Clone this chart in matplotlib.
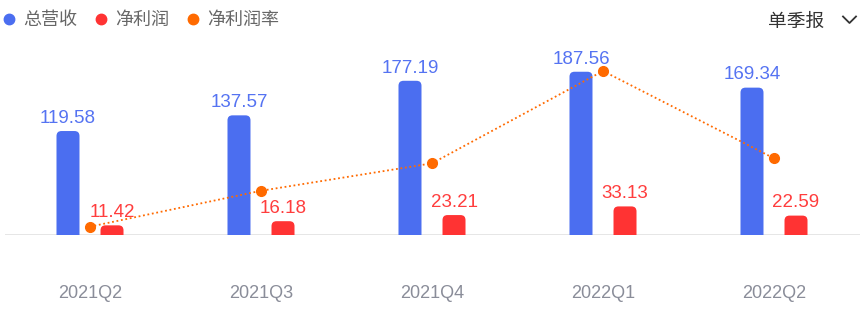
import matplotlib
matplotlib.use("Agg")
import matplotlib.pyplot as plt
from matplotlib.patches import FancyBboxPatch
from matplotlib.lines import Line2D

plt.rcParams['font.family'] = ['Liberation Sans', 'Noto Sans CJK SC', 'DejaVu Sans']

# data
quarters = ["2021Q2", "2021Q3", "2021Q4", "2022Q1", "2022Q2"]
revenue = [119.58, 137.57, 177.19, 187.56, 169.34]
net_profit = [11.42, 16.18, 23.21, 33.13, 22.59]
net_margin = [9.55, 11.42, 12.85, 17.66, 13.11]   # estimated, no labels shown

BLUE = "#4b6ef0"
BLUE_TXT = "#5573f2"
RED = "#ff3333"
RED_TXT = "#ff3d3d"
ORANGE = "#ff6a00"

W, H = 865, 314
fig = plt.figure(figsize=(W / 100, H / 100), dpi=100)

# axes box in pixels: baseline at y=235 from top, top at y=40
left, right = 4.5, 859.5
base, top = 314 - 235.3, 314 - 40
ax = fig.add_axes([left / W, base / H, (right - left) / W, (top - base) / H])
ax2 = ax.twinx()

px_per_unit = 0.872
ax.set_xlim(-0.5, 4.5)
ax.set_ylim(0, (top - base) / px_per_unit)
ax2.set_ylim(9.10, 9.10 + (top - base) * 0.0521)

for a in (ax, ax2):
    for s in a.spines.values():
        s.set_visible(False)
    a.set_yticks([])
ax.tick_params(axis="x", length=0, pad=36, labelsize=13, labelcolor="#8a8d99")

x = list(range(len(quarters)))
bw = 0.1345
off = 0.1287
ax.set_xticks(x)
ax.set_xticklabels(quarters)

ax.axhline(0, color="#e3e3e3", lw=2, zorder=1)

# aspect so rounded corners look round on screen
x_per_px = 5 / (right - left)
y_per_px = 1 / px_per_unit
aspect = y_per_px / x_per_px
rad = 5 * x_per_px


def rounded_bars(xs, vals, color):
    bars = ax.bar(xs, vals, width=bw, color=color)
    for b in bars:
        bx, bh = b.get_x(), b.get_height()
        b.remove()
        p = FancyBboxPatch((bx, -20), bw, bh + 20,
                           boxstyle=f"round,pad=0,rounding_size={rad}",
                           mutation_aspect=aspect, fc=color, ec="none", zorder=2)
        ax.add_patch(p)


xb = [i - off for i in x]
xr = [i + off for i in x]
rounded_bars(xb, revenue, BLUE)
rounded_bars(xr, net_profit, RED)

for xi, v in zip(xb, revenue):
    ax.annotate(f"{v:.2f}", (xi, v), xytext=(0, 3), textcoords="offset points",
                ha="center", va="bottom", fontsize=13.5, color=BLUE_TXT)
for xi, v in zip(xr, net_profit):
    ax.annotate(f"{v:.2f}", (xi, v), xytext=(0, 3), textcoords="offset points",
                ha="center", va="bottom", fontsize=13.5, color=RED_TXT)

ax2.plot(x, net_margin, color=ORANGE, lw=1.3, ls=(0, (1, 1.5)),
         marker="o", ms=7, mec=ORANGE, mfc=ORANGE, zorder=3)

# legend across the top
legend_items = [("总营收", BLUE, 9.3, 23.3), ("净利润", RED, 101, 115),
                ("净利润率", ORANGE, 192.7, 206.7)]
for name, c, dx, tx in legend_items:
    fig.add_artist(Line2D([dx / W], [1 - 19.3 / H], marker="o", ms=7.5,
                          color=c, ls="none"))
    fig.text(tx / W, 1 - 19.5 / H, name, fontsize=13, color="#666666",
             va="center", ha="left", family=["Noto Sans CJK SC", "DejaVu Sans"])

fig.text(768 / W, 1 - 21 / H, "单季报", fontsize=13.5, color="#333333",
         va="center", ha="left", family=["Noto Sans CJK SC", "DejaVu Sans"])
fig.add_artist(Line2D([843 / W, 849.5 / W, 856 / W],
                      [1 - 16.5 / H, 1 - 23 / H, 1 - 16.5 / H],
                      color="#333333", lw=1.3))

fig.savefig("out.png", dpi=100)
